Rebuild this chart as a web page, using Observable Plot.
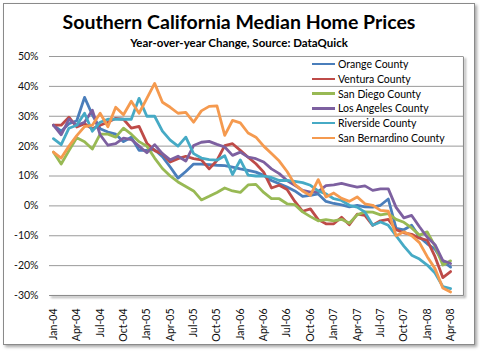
<!DOCTYPE html>
<html><head><meta charset="utf-8">
<script src="https://cdn.jsdelivr.net/npm/d3@7"></script>
<script src="https://cdn.jsdelivr.net/npm/@observablehq/plot@0.6"></script>
<style>
body{margin:0;background:#fff;font-family:Lato,sans-serif;color:#000}
#wrap{position:relative;width:480px;height:352px;overflow:hidden}
#border{position:absolute;left:3px;top:3px;width:472px;height:342px;box-sizing:border-box;border:1px solid #8a8a8a;box-shadow:2px 2px 3px rgba(0,0,0,0.35);background:#fff}
#chart{position:absolute;left:0;top:0}
#title{position:absolute;left:3px;width:472px;top:10px;text-align:center;font-weight:bold;font-size:19.5px;line-height:24px;white-space:nowrap}
#subtitle{position:absolute;left:3px;width:472px;top:36px;text-align:center;font-weight:bold;font-size:11.5px;line-height:14px;white-space:nowrap}
#legend{position:absolute;left:312px;top:56.6px;font-size:10.5px}
.item{display:flex;align-items:center;height:14.8px;white-space:nowrap}
.sw{width:23px;height:2.5px;margin-right:3px}
</style></head>
<body>
<div id="wrap">
  <div id="border"></div>
  <div id="chart"></div>
  <div id="title"></div>
  <div id="subtitle"></div>
  <div id="legend"></div>
</div>
<script>
const titleText = "Southern California Median Home Prices";
const subtitleText = "Year-over-year Change, Source: DataQuick";

const months = ["Jan-04","Feb-04","Mar-04","Apr-04","May-04","Jun-04","Jul-04","Aug-04","Sep-04","Oct-04","Nov-04","Dec-04",
"Jan-05","Feb-05","Mar-05","Apr-05","May-05","Jun-05","Jul-05","Aug-05","Sep-05","Oct-05","Nov-05","Dec-05",
"Jan-06","Feb-06","Mar-06","Apr-06","May-06","Jun-06","Jul-06","Aug-06","Sep-06","Oct-06","Nov-06","Dec-06",
"Jan-07","Feb-07","Mar-07","Apr-07","May-07","Jun-07","Jul-07","Aug-07","Sep-07","Oct-07","Nov-07","Dec-07",
"Jan-08","Feb-08","Mar-08","Apr-08"];

const xTickLabels = ["Jan-04","Apr-04","Jul-04","Oct-04","Jan-05","Apr-05","Jul-05","Oct-05","Jan-06","Apr-06","Jul-06","Oct-06",
"Jan-07","Apr-07","Jul-07","Oct-07","Jan-08","Apr-08"];
const yTicks = [-30,-20,-10,0,10,20,30,40,50];

const countyNames = ["Orange County","Ventura County","San Diego County","Los Angeles County","Riverside County","San Bernardino County"];
const countyColors = ["#4A7EBB","#BE4B48","#98B954","#7D60A0","#46AAC5","#F59A4F"];

const orangeCounty = [27,25,27.5,28.5,36.3,30.5,25.8,24.7,24,21.5,
23,18.6,18.6,18.8,16.5,13,9.3,11.5,14,14,
13.8,13.6,13.5,13,12.4,11.9,11.3,10.2,8.5,7.4,
6.3,5,3.2,3.5,4,1.5,0.8,0.3,-0.3,0.2,
-0.3,-0.4,0.2,2.3,-7.5,-8,-6.5,-10.4,-12.7,-14.5,
-18.5,-20.5];
const venturaCounty = [27,27,29.7,26.4,27.5,25.8,27,28,29.3,29,
26,26.6,21,18.5,17.4,14.7,15.8,16.6,15.8,15.4,
12.4,15.2,20.2,20.8,18.6,16.3,14.1,11.3,6,6.9,
5.5,1.5,-1.8,-1,-4.6,-6,-6,-3.8,-6.3,-2.8,
-3.2,-6.5,-5,-4.5,-8,-9,-9.5,-10.8,-11.5,-17,
-24,-22];
const sanDiegoCounty = [18,14,18.5,22.8,21.5,19,24,24,23,26,
24,21.5,20,16,12.5,10,8,6.5,5,2,
3.2,4.5,6,5,4.5,7,7.2,4.5,2.4,2.4,
0.7,0.4,-2,-3.6,-5,-4.6,-5,-4.5,-5.8,-3,
-2,-2.1,-3,-2.6,-4.5,-5.5,-7.4,-9.8,-8.7,-13.5,
-19.8,-18.4];
const losAngelesCounty = [27,23.8,29,27,28,32,23.8,20.3,20.8,22.7,
22.2,20,17.8,20.5,17.5,15.4,16.6,15,20.2,21.3,
21.6,20.6,19.7,16.9,18,16.3,15.8,14.7,12.4,10.8,
8.5,6.9,5.2,4.6,4.8,6.8,7,7.5,6.9,6.3,
6.7,5.2,5.7,5.7,-0.5,-4,-3.2,-7,-10.5,-13,
-18.3,-19.3];
const riversideCounty = [22.5,20.5,26,27,31,25,28,29,29,29,
29,36,30,30,25,22,20,23,17.5,16,
15.5,15.3,16.8,10.5,15.4,10.3,10,10,9.5,8.5,
8.5,8.2,7.8,6.9,5,4,2.4,1.8,0.2,-0.4,
-2.1,-6.5,-5.4,-6.5,-10,-13.5,-16.5,-17.8,-19.8,-22.5,
-27,-27.7];
const sanBernardinoCounty = [18,16,20,23.5,26.5,27,31,26.5,33,30.5,
35,31,36,41,34.7,33,31,31.3,28,31.8,
33.3,33.5,23.6,28.6,27.8,24.4,23,20,17.5,15,
11.5,7.2,5,3.5,8.8,3,4.3,2.5,1.5,3,
0.7,0.2,-1.5,-1.8,-10,-8.7,-10,-12.3,-17,-21,
-27.5,-28.8];

const seriesValues = [orangeCounty, venturaCounty, sanDiegoCounty, losAngelesCounty, riversideCounty, sanBernardinoCounty];

const table = [];
seriesValues.forEach((vals, s) => vals.forEach((v, i) => table.push({month: months[i], county: countyNames[s], value: v})));

const W = 480, H = 352, mL = 49, mR = 17, mT = 56, mB = 57;
const fw = W - mL - mR, fh = H - mT - mB;
const dash = `0 ${fw} ${fw + fh} ${fh}`;

const chart = Plot.plot({
  width: W, height: H,
  marginLeft: mL, marginRight: mR, marginTop: mT, marginBottom: mB,
  style: {fontFamily: "Lato, sans-serif", fontSize: "10.5px", color: "#111", background: "transparent", overflow: "visible"},
  x: {type: "point", domain: months, range: [mL, 454], ticks: xTickLabels, tickRotate: -90, tickSize: 0, tickPadding: 13, label: null},
  y: {domain: [-30, 50], ticks: yTicks, tickFormat: d => d + "%", tickSize: 0, tickPadding: 11, label: null},
  color: {domain: countyNames, range: countyColors},
  marks: [
    Plot.ruleY(yTicks, {stroke: "#9a9a9a", strokeWidth: 1}),
    Plot.frame({stroke: "#000", strokeOpacity: 0.3, strokeWidth: 2, dx: 1.5, dy: 1.5, strokeDasharray: dash, ariaLabel: "frameshadow"}),
    Plot.frame({stroke: "#8c8c8c", strokeWidth: 1, strokeDasharray: dash}),
    Plot.line(table, {x: "month", y: "value", z: "county", stroke: "#000", strokeOpacity: 0.33, strokeWidth: 3, dx: 2, dy: 3, ariaLabel: "shadow"}),
    Plot.line(table, {x: "month", y: "value", z: "county", stroke: "county", strokeWidth: 2.8})
  ]
});

const ns = "http://www.w3.org/2000/svg";
const defs = document.createElementNS(ns, "defs");
defs.innerHTML = '<filter id="blur" x="-10%" y="-10%" width="120%" height="120%"><feGaussianBlur stdDeviation="1.3"/></filter>';
chart.insertBefore(defs, chart.firstChild);
chart.querySelectorAll('[aria-label="shadow"], [aria-label="frameshadow"]').forEach(g => g.setAttribute("filter", "url(#blur)"));

document.getElementById("chart").appendChild(chart);
document.getElementById("title").textContent = titleText;
document.getElementById("subtitle").textContent = subtitleText;

const legend = document.getElementById("legend");
countyNames.forEach((name, i) => {
  const item = document.createElement("div");
  item.className = "item";
  const sw = document.createElement("span");
  sw.className = "sw";
  sw.style.background = countyColors[i];
  const label = document.createElement("span");
  label.textContent = name;
  item.appendChild(sw);
  item.appendChild(label);
  legend.appendChild(item);
});
</script>
</body></html>
